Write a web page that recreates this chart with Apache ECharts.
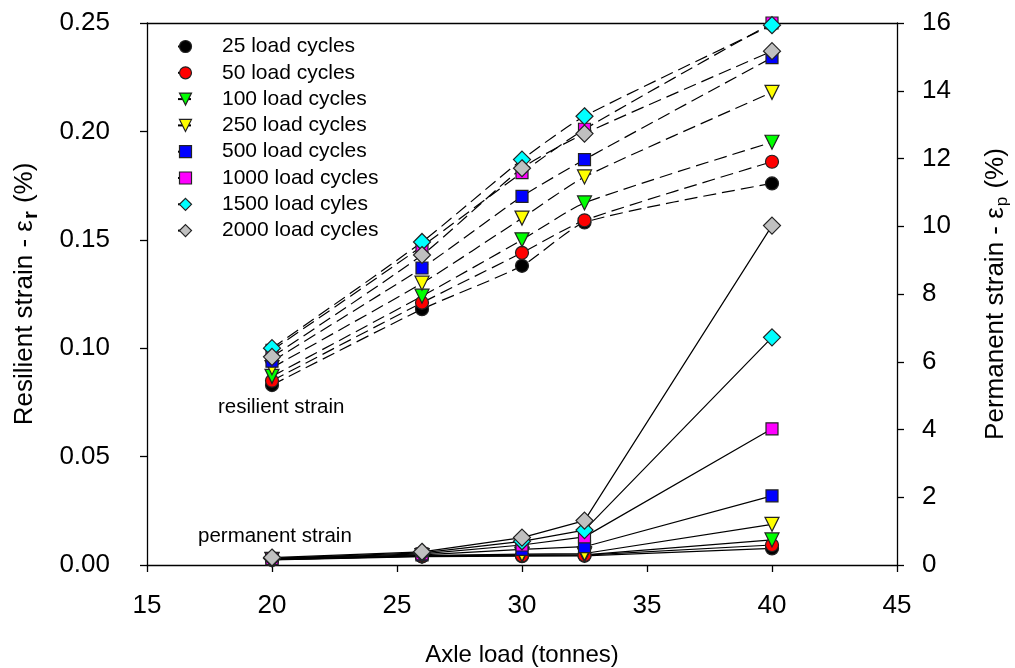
<!DOCTYPE html>
<html>
<head>
<meta charset="utf-8">
<script src="https://cdn.jsdelivr.net/npm/echarts@6/dist/echarts.min.js"></script>
<style>
  html, body { margin: 0; padding: 0; background: #fff; }
  #chart { width: 1015px; height: 668px; }
</style>
</head>
<body>
<div id="chart"></div>
<script>
// Axle loads (tonnes)
const axleLoads = [20, 26, 30, 32.5, 40];

// Number of load cycles per series
const cycleNames = ['25 load cycles', '50 load cycles', '100 load cycles', '250 load cycles',
                    '500 load cycles', '1000 load cycles', '1500 load cyles', '2000 load cycles'];

// Resilient strain (%) — left axis
const resilient25   = [0.083, 0.118, 0.138, 0.158, 0.176];
const resilient50   = [0.085, 0.121, 0.144, 0.159, 0.186];
const resilient100  = [0.087, 0.124, 0.150, 0.167, 0.195];
const resilient250  = [0.091, 0.130, 0.160, 0.179, 0.218];
const resilient500  = [0.094, 0.137, 0.170, 0.187, 0.234];
const resilient1000 = [0.099, 0.147, 0.181, 0.201, 0.250];
const resilient1500 = [0.100, 0.149, 0.187, 0.207, 0.249];
const resilient2000 = [0.096, 0.143, 0.183, 0.199, 0.237];

// Permanent strain (%) — right axis
const permanent25   = [0.15, 0.25, 0.26, 0.27, 0.49];
const permanent50   = [0.16, 0.26, 0.28, 0.29, 0.59];
const permanent100  = [0.16, 0.27, 0.30, 0.30, 0.74];
const permanent250  = [0.17, 0.28, 0.32, 0.34, 1.20];
const permanent500  = [0.18, 0.30, 0.46, 0.54, 2.04];
const permanent1000 = [0.19, 0.33, 0.59, 0.83, 4.02];
const permanent1500 = [0.20, 0.36, 0.70, 1.03, 6.72];
const permanent2000 = [0.22, 0.39, 0.81, 1.31, 10.02];

// Axis ticks
const xTicks = [15, 20, 25, 30, 35, 40, 45];
const leftTicks = [0, 0.05, 0.10, 0.15, 0.20, 0.25];
const rightTicks = [0, 2, 4, 6, 8, 10, 12, 14, 16];

const resilientSets = [resilient25, resilient50, resilient100, resilient250,
                       resilient500, resilient1000, resilient1500, resilient2000];
const permanentSets = [permanent25, permanent50, permanent100, permanent250,
                       permanent500, permanent1000, permanent1500, permanent2000];

const markerStyles = [
  { symbol: 'circle',   size: 13, rotate: 0,   color: '#000000' },
  { symbol: 'circle',   size: 13, rotate: 0,   color: '#ff0000' },
  { symbol: 'triangle', size: 14, rotate: 180, color: '#00ff00' },
  { symbol: 'triangle', size: 14, rotate: 180, color: '#ffff00' },
  { symbol: 'rect',     size: 12, rotate: 0,   color: '#0000ff' },
  { symbol: 'rect',     size: 12, rotate: 0,   color: '#ff00ff' },
  { symbol: 'diamond',  size: 17, rotate: 0,   color: '#00ffff' },
  { symbol: 'diamond',  size: 17, rotate: 0,   color: '#c0c0c0' }
];

const FONT = 'Liberation Sans, Arial, sans-serif';

function pairs(values) {
  return axleLoads.map((x, i) => [x, values[i]]);
}

const series = [];
cycleNames.forEach((name, i) => {
  const m = markerStyles[i];
  series.push({
    name: name,
    type: 'line',
    yAxisIndex: 0,
    data: pairs(resilientSets[i]),
    smooth: 0.2,
    symbol: m.symbol,
    symbolSize: m.size,
    symbolRotate: m.rotate,
    showAllSymbol: true,
    lineStyle: { color: '#000', width: 1.2, type: [13, 6] },
    itemStyle: { color: m.color, borderColor: '#222', borderWidth: 1.2 },
    emphasis: { disabled: true },
    animation: false,
    z: 2
  });
});
cycleNames.forEach((name, i) => {
  const m = markerStyles[i];
  series.push({
    name: name,
    type: 'line',
    yAxisIndex: 1,
    data: pairs(permanentSets[i]),
    symbol: m.symbol,
    symbolSize: m.size,
    symbolRotate: m.rotate,
    showAllSymbol: true,
    lineStyle: { color: '#000', width: 1.2, type: 'solid' },
    itemStyle: { color: m.color, borderColor: '#222', borderWidth: 1.2 },
    emphasis: { disabled: true },
    animation: false,
    z: 2
  });
});

const axisLine = { show: true, onZero: false, lineStyle: { color: '#000', width: 1.3 } };
const axisTick = { show: true, inside: false, length: 7, lineStyle: { color: '#000', width: 1.3 } };

const chart = echarts.init(document.getElementById('chart'));
chart.setOption({
  backgroundColor: '#fff',
  animation: false,
  textStyle: { fontFamily: FONT },
  grid: { left: 147, right: 118, top: 23, bottom: 103, containLabel: false, outerBoundsMode: 'none' },
  legend: {
    data: cycleNames,
    orient: 'vertical',
    left: 172,
    top: 31,
    itemWidth: 15,
    itemHeight: 15,
    itemGap: 5.3,
    itemStyle: { borderColor: '#222', borderWidth: 1.2 },
    textStyle: { fontFamily: FONT, fontSize: 21, color: '#000', padding: [0, 0, 0, 24] },
    selectedMode: false
  },
  xAxis: [{
    type: 'value',
    position: 'bottom',
    min: xTicks[0],
    max: xTicks[xTicks.length - 1],
    interval: 5,
    name: 'Axle load (tonnes)',
    nameLocation: 'middle',
    nameGap: 78,
    nameTextStyle: { fontFamily: FONT, fontSize: 24, color: '#000' },
    axisLine: axisLine,
    axisTick: axisTick,
    axisLabel: { fontFamily: FONT, fontSize: 26, color: '#000', margin: 28 },
    splitLine: { show: false }
  }, {
    type: 'value',
    position: 'top',
    min: xTicks[0],
    max: xTicks[xTicks.length - 1],
    axisLine: axisLine,
    axisTick: { show: false },
    axisLabel: { show: false },
    splitLine: { show: false }
  }],
  yAxis: [{
    type: 'value',
    position: 'left',
    min: leftTicks[0],
    max: leftTicks[leftTicks.length - 1],
    interval: 0.05,
    name: 'Resilient strain - ε{subr|r} (%)',
    nameLocation: 'middle',
    nameRotate: 90,
    nameGap: 106,
    nameTextStyle: {
      fontFamily: FONT, fontSize: 26, color: '#000',
      rich: {
        subr: { fontFamily: FONT, fontSize: 20, fontWeight: 'bold', color: '#000', padding: [12, 1, 0, 1] }
      }
    },
    axisLine: axisLine,
    axisTick: axisTick,
    axisLabel: {
      fontFamily: FONT, fontSize: 26, color: '#000', margin: 37,
      formatter: v => v.toFixed(2)
    },
    splitLine: { show: false }
  }, {
    type: 'value',
    position: 'right',
    min: rightTicks[0],
    max: rightTicks[rightTicks.length - 1],
    interval: 2,
    name: 'Permanent strain - ε{subp|p} (%)',
    nameLocation: 'middle',
    nameRotate: 90,
    nameGap: 83,
    nameTextStyle: {
      fontFamily: FONT, fontSize: 26, color: '#000',
      rich: {
        subp: { fontFamily: FONT, fontSize: 17, color: '#000', padding: [14, 1, 0, 1] }
      }
    },
    axisLine: axisLine,
    axisTick: axisTick,
    axisLabel: { fontFamily: FONT, fontSize: 26, color: '#000', margin: 25 },
    splitLine: { show: false }
  }],
  graphic: [
    { type: 'text', left: 218, top: 397,
      style: { text: 'resilient strain', fontFamily: FONT, fontSize: 20.5, fill: '#000' } },
    { type: 'text', left: 198, top: 526,
      style: { text: 'permanent strain', fontFamily: FONT, fontSize: 20.5, fill: '#000' } }
  ],
  series: series
});
</script>
</body>
</html>
